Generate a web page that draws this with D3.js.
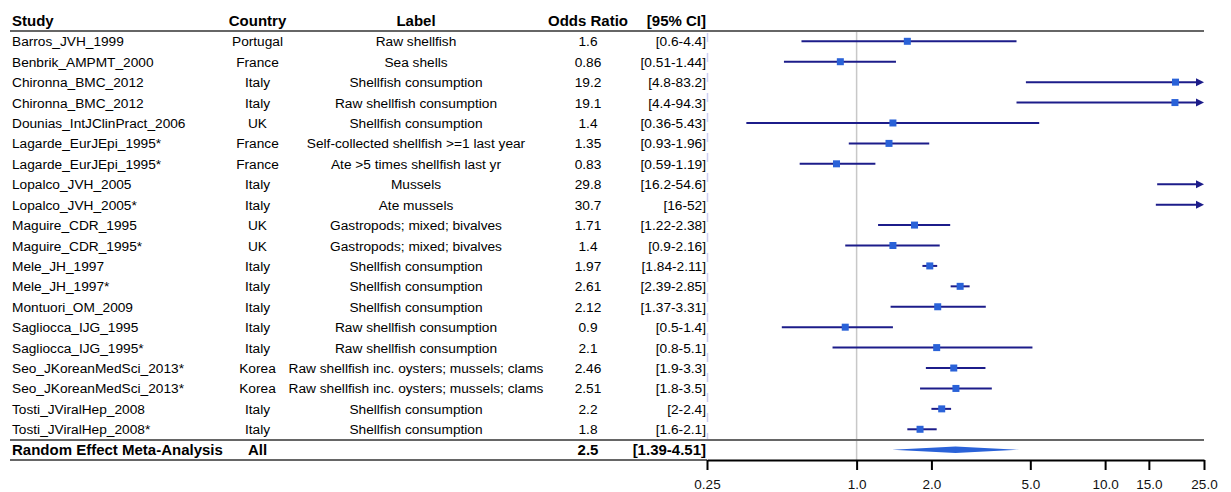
<!DOCTYPE html>
<html>
<head>
<meta charset="utf-8">
<script src="https://cdn.jsdelivr.net/npm/d3@7"></script>
<style>
  html, body { margin: 0; padding: 0; background: #fff; }
  svg { display: block; font-family: "Liberation Sans", Arial, Helvetica, sans-serif; }
</style>
</head>
<body>
<svg id="chart" width="1231" height="492"></svg>
<script>
const studies = ["Barros_JVH_1999","Benbrik_AMPMT_2000","Chironna_BMC_2012","Chironna_BMC_2012","Dounias_IntJClinPract_2006","Lagarde_EurJEpi_1995*","Lagarde_EurJEpi_1995*","Lopalco_JVH_2005","Lopalco_JVH_2005*","Maguire_CDR_1995","Maguire_CDR_1995*","Mele_JH_1997","Mele_JH_1997*","Montuori_OM_2009","Sagliocca_IJG_1995","Sagliocca_IJG_1995*","Seo_JKoreanMedSci_2013*","Seo_JKoreanMedSci_2013*","Tosti_JViralHep_2008","Tosti_JViralHep_2008*"];
const countries = ["Portugal","France","Italy","Italy","UK","France","France","Italy","Italy","UK","UK","Italy","Italy","Italy","Italy","Italy","Korea","Korea","Italy","Italy"];
const labels = ["Raw shellfish","Sea shells","Shellfish consumption","Raw shellfish consumption","Shellfish consumption","Self-collected shellfish >=1 last year","Ate >5 times shellfish last yr","Mussels","Ate mussels","Gastropods; mixed; bivalves","Gastropods; mixed; bivalves","Shellfish consumption","Shellfish consumption","Shellfish consumption","Raw shellfish consumption","Raw shellfish consumption","Raw shellfish inc. oysters; mussels; clams","Raw shellfish inc. oysters; mussels; clams","Shellfish consumption","Shellfish consumption"];
const oddsRatios = [1.6,0.86,19.2,19.1,1.4,1.35,0.83,29.8,30.7,1.71,1.4,1.97,2.61,2.12,0.9,2.1,2.46,2.51,2.2,1.8];
const ciLower = [0.6,0.51,4.8,4.4,0.36,0.93,0.59,16.2,16,1.22,0.9,1.84,2.39,1.37,0.5,0.8,1.9,1.8,2,1.6];
const ciUpper = [4.4,1.44,83.2,94.3,5.43,1.96,1.19,54.6,52,2.38,2.16,2.11,2.85,3.31,1.4,5.1,3.3,3.5,2.4,2.1];
const summaryName = "Random Effect Meta-Analysis";
const summaryCountry = "All";
const summaryOR = 2.5;
const summaryLower = 1.39;
const summaryUpper = 4.51;
const headers = ["Study","Country","Label","Odds Ratio","[95% CI]"];
const tickValues = [0.25, 1, 2, 5, 10, 15, 25];
const tickLabels = ["0.25","1.0","2.0","5.0","10.0","15.0","25.0"];

const svg = d3.select("#chart");
const nRows = studies.length;
const y = d3.scalePoint().domain(d3.range(nRows + 1)).range([41.3, 449.7]);
const x = d3.scaleLog().domain([0.25, 25]).range([707, 1204]);
const xc = v => x(Math.max(0.25, Math.min(25, v)));

const colStudy = 12, colCountry = 257.5, colLabel = 416, colOR = 588, colCI = 706;
const lineColor = "#1c1c8a", boxColor = "#2a62d8";

// dashed light line at plot left edge
svg.append("line").attr("x1", 707.5).attr("x2", 707.5).attr("y1", 33).attr("y2", 440)
  .attr("stroke", "#cfd0f3").attr("stroke-width", 1.5).attr("stroke-dasharray", "9,11");

// reference line at OR=1
svg.append("line").attr("x1", x(1)).attr("x2", x(1)).attr("y1", 31).attr("y2", 460)
  .attr("stroke", "#c8c8c8").attr("stroke-width", 1.5);

// header
const hdr = svg.append("g").attr("font-weight", "bold").attr("font-size", 15).attr("fill", "#000");
hdr.append("text").attr("x", colStudy).attr("y", 26).text(headers[0]);
hdr.append("text").attr("x", colCountry).attr("y", 26).attr("text-anchor", "middle").text(headers[1]);
hdr.append("text").attr("x", colLabel).attr("y", 26).attr("text-anchor", "middle").text(headers[2]);
hdr.append("text").attr("x", colOR).attr("y", 26).attr("text-anchor", "middle").text(headers[3]);
hdr.append("text").attr("x", colCI).attr("y", 26).attr("text-anchor", "end").text(headers[4]);

// horizontal rules
svg.append("line").attr("x1", 10).attr("x2", x(25)).attr("y1", 31).attr("y2", 31).attr("stroke", "#666").attr("stroke-width", 2);
svg.append("line").attr("x1", 10).attr("x2", x(25)).attr("y1", 440).attr("y2", 440).attr("stroke", "#666").attr("stroke-width", 2);
svg.append("line").attr("x1", 10).attr("x2", 707).attr("y1", 460).attr("y2", 460).attr("stroke", "#666").attr("stroke-width", 2);

// table rows
const rows = svg.append("g").attr("font-size", 13.7).attr("fill", "#000");
d3.range(nRows).forEach(i => {
  const ty = y(i) + 5;
  rows.append("text").attr("x", colStudy).attr("y", ty).text(studies[i]);
  rows.append("text").attr("x", colCountry).attr("y", ty).attr("text-anchor", "middle").text(countries[i]);
  rows.append("text").attr("x", colLabel).attr("y", ty).attr("text-anchor", "middle").text(labels[i]);
  rows.append("text").attr("x", colOR).attr("y", ty).attr("text-anchor", "middle").text(String(oddsRatios[i]));
  rows.append("text").attr("x", colCI).attr("y", ty).attr("text-anchor", "end").text("[" + ciLower[i] + "-" + ciUpper[i] + "]");
});

// summary row text
const sy = y(nRows) + 5;
const srow = svg.append("g").attr("font-size", 15).attr("font-weight", "bold").attr("fill", "#000");
srow.append("text").attr("x", colStudy).attr("y", sy).text(summaryName);
srow.append("text").attr("x", 248).attr("y", sy).text(summaryCountry);
srow.append("text").attr("x", colOR).attr("y", sy).attr("text-anchor", "middle").text(String(summaryOR));
srow.append("text").attr("x", colCI).attr("y", sy).attr("text-anchor", "end").text("[" + summaryLower + "-" + summaryUpper + "]");

// CI lines
const plot = svg.append("g");
d3.range(nRows).forEach(i => {
  const yy = y(i);
  const x1 = xc(ciLower[i]), x2 = xc(ciUpper[i]);
  const arrowR = ciUpper[i] > 25;
  plot.append("line").attr("x1", x1).attr("x2", arrowR ? x2 - 4 : x2).attr("y1", yy).attr("y2", yy)
    .attr("stroke", lineColor).attr("stroke-width", 2);
  if (arrowR) {
    plot.append("path").attr("d", `M${x2},${yy} L${x2 - 8},${yy - 4} L${x2 - 8},${yy + 4} Z`).attr("fill", lineColor);
  }
  if (oddsRatios[i] <= 25 && oddsRatios[i] >= 0.25) {
    const s = 7;
    plot.append("rect").attr("x", x(oddsRatios[i]) - s / 2).attr("y", yy - s / 2)
      .attr("width", s).attr("height", s).attr("fill", boxColor);
  }
});

// summary diamond
const dy = y(nRows);
plot.append("path")
  .attr("d", `M${x(summaryLower)},${dy} L${x(summaryOR)},${dy - 3.2} L${x(summaryUpper)},${dy} L${x(summaryOR)},${dy + 3.2} Z`)
  .attr("fill", boxColor);

// axis
const axis = d3.axisBottom(x).tickValues(tickValues).tickFormat((d, i) => tickLabels[i]).tickSize(10).tickSizeOuter(0);
const ax = svg.append("g").attr("transform", "translate(0,460)").call(axis);
ax.select(".domain").attr("stroke", "#000").attr("stroke-width", 2);
ax.selectAll(".tick line").attr("stroke", "#000").attr("stroke-width", 2);
ax.selectAll(".tick text").attr("font-size", 13.5).attr("font-family", "Liberation Sans, Arial, sans-serif").attr("fill", "#111").attr("dy", "1.2em");
</script>
</body>
</html>
